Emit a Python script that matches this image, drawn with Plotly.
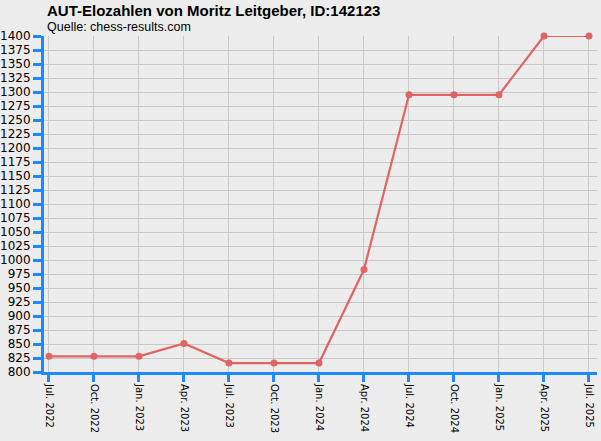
import plotly.graph_objects as go

# Quarterly rating dates and values
dates = [
    "Jul. 2022", "Oct. 2022", "Jan. 2023", "Apr. 2023", "Jul. 2023",
    "Oct. 2023", "Jan. 2024", "Apr. 2024", "Jul. 2024", "Oct. 2024",
    "Jan. 2025", "Apr. 2025", "Jul. 2025",
]
elo = [828, 828, 828, 851, 816, 816, 816, 983, 1295, 1295, 1295, 1400, 1400]
y_ticks = list(range(800, 1401, 25))

x_pos = list(range(len(dates)))

axis_blue = "#1e88ff"
grid_grey = "#c8c8c8"
line_red = "#e06464"
bg = "#ececec"

fig = go.Figure(
    go.Scatter(
        x=x_pos,
        y=elo,
        mode="lines+markers",
        line=dict(color=line_red, width=2.2),
        marker=dict(color=line_red, size=7),
        hoverinfo="skip",
        cliponaxis=False,
    )
)

fig.update_layout(
    width=601,
    height=441,
    margin=dict(l=44, r=4, t=36, b=69, autoexpand=False),
    paper_bgcolor=bg,
    plot_bgcolor=bg,
    showlegend=False,
    font=dict(family="Liberation Sans, Arial, sans-serif", color="black"),
)

fig.update_xaxes(
    range=[-0.111, 12.178],
    tickvals=x_pos,
    ticktext=dates,
    tickangle=90,
    tickfont=dict(family="DejaVu Sans", size=10),
    showgrid=True,
    gridcolor=grid_grey,
    gridwidth=1,
    showline=True,
    linecolor=axis_blue,
    linewidth=3,
    ticks="outside",
    ticklen=7,
    tickwidth=3,
    tickcolor=axis_blue,
    zeroline=False,
    automargin=False,
    fixedrange=True,
)

fig.update_yaxes(
    range=[800, 1400],
    tickvals=y_ticks,
    tickfont=dict(family="DejaVu Sans", size=12),
    showgrid=True,
    gridcolor=grid_grey,
    gridwidth=1,
    showline=True,
    linecolor=axis_blue,
    linewidth=3,
    ticks="outside",
    ticklen=8,
    tickwidth=3,
    tickcolor=axis_blue,
    zeroline=False,
    automargin=False,
    fixedrange=True,
)

# title and source line above the plot area
fig.add_annotation(
    text="<b>AUT-Elozahlen von Moritz Leitgeber, ID:142123</b>",
    xref="paper", yref="paper", x=0, y=1,
    xshift=1, yshift=26,
    xanchor="left", yanchor="middle",
    showarrow=False,
    font=dict(size=15),
)
fig.add_annotation(
    text="Quelle: chess-results.com",
    xref="paper", yref="paper", x=0, y=1,
    xshift=1, yshift=9,
    xanchor="left", yanchor="middle",
    showarrow=False,
    font=dict(size=12.5),
)

# drop the default 8px page margin so the figure sits at the window corner
fig.write_html(
    "out.html",
    config={"displayModeBar": False, "staticPlot": True},
    post_script="document.body.style.margin='0';",
)
